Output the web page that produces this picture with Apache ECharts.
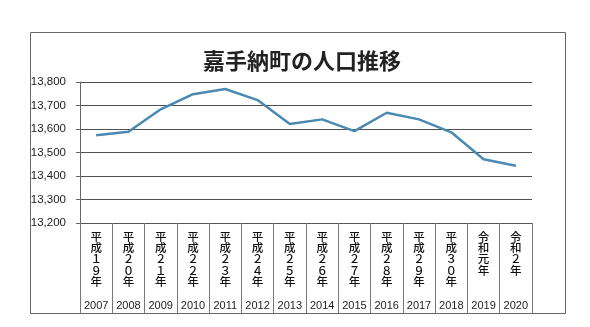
<!DOCTYPE html>
<html><head><meta charset="utf-8">
<script src="https://cdn.jsdelivr.net/npm/echarts@6/dist/echarts.min.js"></script>
<style>html,body{margin:0;padding:0;background:#fff}#c{width:590px;height:327px}</style>
</head><body><div id="c"></div>
<script>
const years = ['2007','2008','2009','2010','2011','2012','2013','2014','2015','2016','2017','2018','2019','2020'];
const eraLabels = ['平成１９年','平成２０年','平成２１年','平成２２年','平成２３年','平成２４年','平成２５年','平成２６年','平成２７年','平成２８年','平成２９年','平成３０年','令和元年','令和２年'];
const population = [13573, 13588, 13684, 13748, 13770, 13723, 13621, 13641, 13591, 13669, 13641, 13586, 13471, 13444];
const yTicks = {min: 13200, max: 13800, interval: 100};
const titleText = '嘉手納町の人口推移';

const chart = echarts.init(document.getElementById('c'), null, {renderer: 'canvas'});
const jpFont = '"Noto Sans CJK JP", "Noto Sans", sans-serif';
chart.setOption({
  animation: false,
  backgroundColor: '#ffffff',
  title: {
    text: titleText, left: 297, top: 45, textAlign: 'center',
    textStyle: {fontFamily: jpFont, fontSize: 22, fontWeight: 'bold', color: '#222'}
  },
  graphic: [{
    type: 'rect', shape: {x: 30.5, y: 32.5, width: 535, height: 281},
    style: {fill: 'none', stroke: '#666', lineWidth: 1}, silent: true, z: -1
  }],
  grid: {left: 80, right: 58, top: 82, bottom: 104},
  xAxis: [{
    type: 'category', data: eraLabels, boundaryGap: true,
    axisLine: {show: true, lineStyle: {color: '#555', width: 1}},
    axisTick: {show: false},
    axisLabel: {
      interval: 0, margin: 8, fontFamily: jpFont, fontSize: 11.5, fontWeight: 500, color: '#111',
      lineHeight: 11.2, formatter: v => v.split('').join('\n')
    },
    splitLine: {show: false}
  }, {
    type: 'category', data: years, boundaryGap: true, position: 'bottom', offset: 0,
    axisLine: {show: false},
    axisTick: {show: true, interval: 0, length: 90, lineStyle: {color: '#777', width: 1}},
    axisLabel: {interval: 0, margin: 77, fontFamily: 'Liberation Sans, Arial, sans-serif', fontSize: 11, color: '#222'},
    splitLine: {show: false}
  }],
  yAxis: {
    type: 'value', min: yTicks.min, max: yTicks.max, interval: yTicks.interval,
    axisLine: {show: true, lineStyle: {color: '#666', width: 1}},
    axisTick: {show: true, length: 4, lineStyle: {color: '#666'}},
    axisLabel: {margin: 14, fontFamily: 'Liberation Sans, Arial, sans-serif', fontSize: 11.5, color: '#222',
      formatter: v => v.toLocaleString('en-US')},
    splitLine: {show: true, lineStyle: {color: '#505050', width: 1}}
  },
  series: [{
    type: 'line', data: population, xAxisIndex: 0, showSymbol: false, symbol: 'none',
    lineStyle: {color: '#4a8ab2', width: 2.5}, itemStyle: {color: '#4a8ab2'}
  }]
});
</script></body></html>
